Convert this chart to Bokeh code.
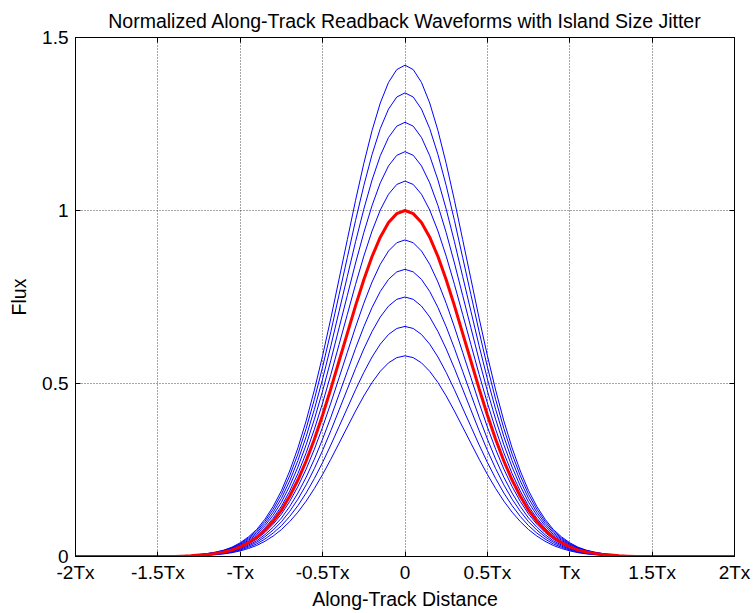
from bokeh.plotting import figure
from bokeh.models import Range1d, FixedTicker, LinearAxis
from bokeh.embed import file_html
from bokeh.resources import INLINE

# Along-track positions (in units of Tx)
x_pos = [-2.00, -1.95, -1.90, -1.85, -1.80, -1.75, -1.70, -1.65, -1.60, -1.55,
         -1.50, -1.45, -1.40, -1.35, -1.30, -1.25, -1.20, -1.15, -1.10, -1.05,
         -1.00, -0.95, -0.90, -0.85, -0.80, -0.75, -0.70, -0.65, -0.60, -0.55,
         -0.50, -0.45, -0.40, -0.35, -0.30, -0.25, -0.20, -0.15, -0.10, -0.05,
         0.00, 0.05, 0.10, 0.15, 0.20, 0.25, 0.30, 0.35, 0.40, 0.45,
         0.50, 0.55, 0.60, 0.65, 0.70, 0.75, 0.80, 0.85, 0.90, 0.95,
         1.00, 1.05, 1.10, 1.15, 1.20, 1.25, 1.30, 1.35, 1.40, 1.45,
         1.50, 1.55, 1.60, 1.65, 1.70, 1.75, 1.80, 1.85, 1.90, 1.95, 2.00]

# Nominal normalized readback waveform (red curve)
nominal_flux = [0, 0, 0, 0, 0, 0, 0, 0, 0, 0,
                0, 0, 0, 0.001, 0.002, 0.004, 0.006, 0.009, 0.013, 0.019,
                0.028, 0.040, 0.055, 0.076, 0.102, 0.134, 0.174, 0.221, 0.276, 0.339,
                0.409, 0.485, 0.565, 0.645, 0.725, 0.800, 0.867, 0.923, 0.965, 0.991,
                1.000, 0.991, 0.965, 0.923, 0.867, 0.800, 0.725, 0.645, 0.565, 0.485,
                0.409, 0.339, 0.276, 0.221, 0.174, 0.134, 0.102, 0.076, 0.055, 0.040,
                0.028, 0.019, 0.013, 0.009, 0.006, 0.004, 0.002, 0.001, 0, 0,
                0, 0, 0, 0, 0, 0, 0, 0, 0, 0, 0]

# Peak amplitudes of the jittered waveforms (blue curves)
jitter_peaks = [0.58, 0.665, 0.75, 0.83, 0.915, 1.085, 1.17, 1.255, 1.34, 1.42]

x_ticks = [-2, -1.5, -1, -0.5, 0, 0.5, 1, 1.5, 2]
x_tick_labels = ["-2Tx", "-1.5Tx", "-Tx", "-0.5Tx", "0", "0.5Tx", "Tx", "1.5Tx", "2Tx"]
y_ticks = [0, 0.5, 1, 1.5]
y_tick_labels = ["0", "0.5", "1", "1.5"]

FONT = "Liberation Sans"
FS_TICK = "19px"
FS_LABEL = "19.5px"

p = figure(width=755, height=613, output_backend="svg", toolbar_location=None,
           x_range=Range1d(-2, 2), y_range=Range1d(0, 1.5),
           min_border_left=75, min_border_right=21, min_border_top=37,
           min_border_bottom=57,
           title="Normalized Along-Track Readback Waveforms with Island Size Jitter")
p.background_fill_color = "white"
p.border_fill_color = "white"
p.outline_line_color = "black"
p.outline_line_width = 1
p.outline_line_alpha = 1

p.title.align = "center"
p.title.vertical_align = "top"
p.title.text_font = FONT
p.title.text_font_size = FS_LABEL
p.title.text_font_style = "normal"
p.title.text_color = "black"
p.title.standoff = 8

for g in (p.xgrid, p.ygrid):
    g.grid_line_color = "#222222"
    g.grid_line_dash = "1 2"
    g.grid_line_width = 1
    g.grid_line_alpha = 0.8
p.xgrid.ticker = FixedTicker(ticks=x_ticks)
p.ygrid.ticker = FixedTicker(ticks=y_ticks)

xa = p.xaxis[0]
xa.ticker = FixedTicker(ticks=x_ticks)
xa.major_label_overrides = {t: l for t, l in zip(x_ticks, x_tick_labels)}
ya = p.yaxis[0]
ya.ticker = FixedTicker(ticks=y_ticks)
ya.major_label_overrides = {t: l for t, l in zip(y_ticks, y_tick_labels)}

xa.axis_label = "Along-Track Distance"
ya.axis_label = "Flux"
for ax in (xa, ya):
    ax.major_tick_in = 5
    ax.major_tick_out = 0
    ax.minor_tick_in = 0
    ax.minor_tick_out = 0
    ax.axis_line_color = "black"
    ax.major_tick_line_color = "black"
    ax.major_label_text_font = FONT
    ax.major_label_text_font_size = FS_TICK
    ax.major_label_text_color = "black"
    ax.axis_label_text_font = FONT
    ax.axis_label_text_font_size = FS_LABEL
    ax.axis_label_text_font_style = "normal"
    ax.axis_label_text_color = "black"
xa.major_label_standoff = 5
xa.axis_label_standoff = 2
ya.major_label_standoff = 7
ya.axis_label_standoff = 9

# box ticks on top and right (no labels)
for loc, ticks in (("above", x_ticks), ("right", y_ticks)):
    ax = LinearAxis(ticker=FixedTicker(ticks=ticks))
    ax.major_tick_in = 5
    ax.major_tick_out = 0
    ax.minor_tick_in = 0
    ax.minor_tick_out = 0
    ax.major_label_text_font_size = "0px"
    ax.major_label_text_color = None
    ax.major_label_standoff = 0
    ax.axis_line_color = "black"
    ax.major_tick_line_color = "black"
    p.add_layout(ax, loc)

for pk in jitter_peaks:
    p.line(x_pos, [pk * v for v in nominal_flux], line_color="#0000ff", line_width=1)
p.line(x_pos, nominal_flux, line_color="#ff0000", line_width=3)

open("out.html", "w").write(file_html(p, INLINE))
